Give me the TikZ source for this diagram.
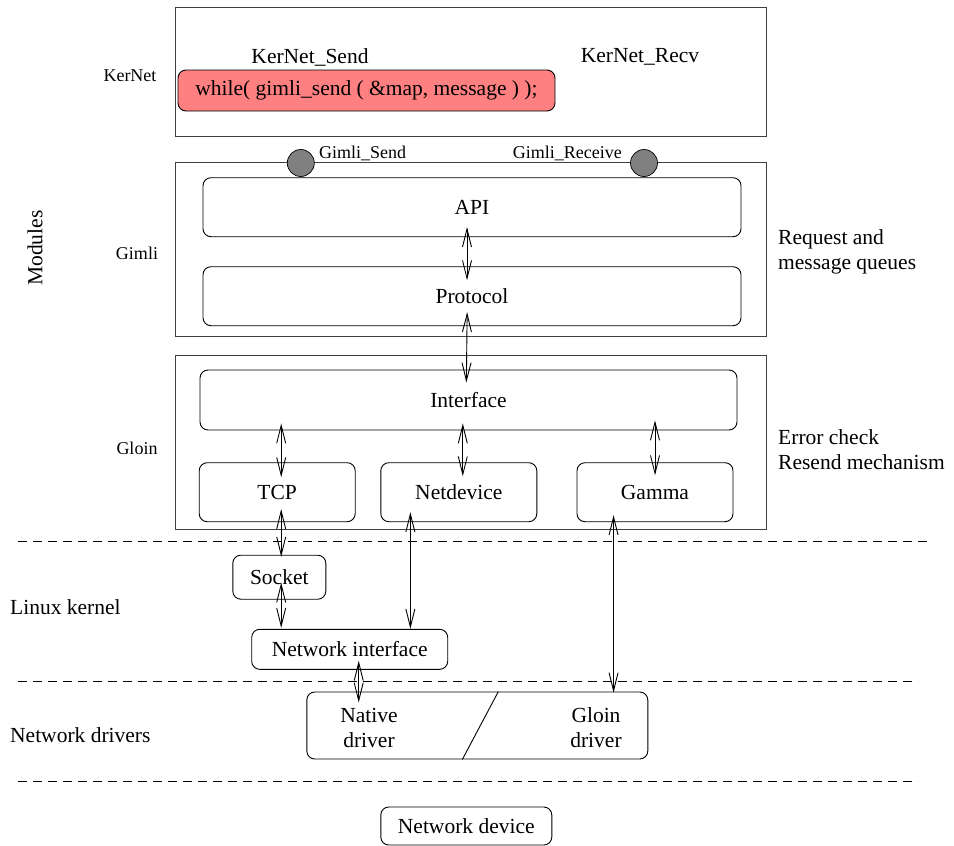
\documentclass[tikz,border=0pt]{standalone}
\usepackage{fontspec}
\setmainfont{Liberation Serif}
\usetikzlibrary{arrows.meta}
\definecolor{callred}{RGB}{255,128,128}

\begin{document}
\begin{tikzpicture}[x=1pt, y=-1pt,
    every node/.style={font=\fontsize{21.5}{25}\selectfont, inner sep=0pt},
    small/.style={font=\fontsize{18}{20}\selectfont},
    frame/.style={draw=black!75, line width=0.9pt},
    box/.style={draw, line width=0.9pt, rounded corners=8pt},
    port/.style={circle, draw, fill=gray, minimum size=27pt, line width=0.7pt},
    link/.style={{Straight Barb[length=18pt,width=9pt]}-{Straight Barb[length=18pt,width=9pt]}, line width=0.9pt},
    sep/.style={dashed, dash pattern=on 9pt off 6pt, line width=0.9pt}]
    \useasboundingbox (0,0) rectangle (954,846);

    % KerNet
    \node [frame, minimum width=591pt, minimum height=129pt] (kernet) at (470.5,72.3) {};
    \node [small] (kernetlbl) at (130,76) {KerNet};
    \node (ksend) at (310,57) {KerNet\_Send};
    \node (krecv) at (640,57) {KerNet\_Recv};
    \node [box, fill=callred, minimum width=377pt, minimum height=41pt] (call) at (366.5,90.5) {while( gimli\_send ( \&map, message ) );};

    % Gimli
    \node [frame, minimum width=591pt, minimum height=174pt] (gimli) at (470.5,249.5) {};
    \node [small] (gimlilbl) at (137,253) {Gimli};
    \node [box, minimum width=538pt, minimum height=59pt] (api) at (472,207.2) {API};
    \node [box, minimum width=538pt, minimum height=59pt] (proto) at (472,296.2) {Protocol};
    \node [port] (gsend) at (300.8,163) {};
    \node [port] (grecv) at (644,163) {};
    \node [small, anchor=base west] (gsendlbl) at (319,158) {Gimli\_Send};
    \node [small, anchor=base east] (grecvlbl) at (622,158) {Gimli\_Receive};
    \node [align=left, anchor=west] (queues) at (778,252) {Request and\\message queues};

    % Gloin
    \node [frame, minimum width=591pt, minimum height=174pt] (gloin) at (470.5,442.2) {};
    \node [small] (gloinlbl) at (137,448) {Gloin};
    \node [box, minimum width=537pt, minimum height=60pt] (iface) at (468.5,400) {Interface};
    \node [box, minimum width=156pt, minimum height=59pt] (tcp) at (277.2,492.2) {TCP};
    \node [box, minimum width=156pt, minimum height=59pt] (netdev) at (458.8,492.2) {Netdevice};
    \node [box, minimum width=156pt, minimum height=59pt] (gamma) at (655,492.2) {Gamma};
    \node [align=left, anchor=west] (errchk) at (778,450) {Error check\\Resend mechanism};

    \node [rotate=90] (modules) at (35,248) {Modules};

    % layers
    \draw [sep] (18,541) -- (928,541);
    \draw [sep] (18,681) -- (918,681);
    \draw [sep] (18,781) -- (918,781);
    \node [anchor=west] (linux) at (10,607) {Linux kernel};
    \node [anchor=west] (drivers) at (10,735) {Network drivers};

    \node [box, minimum width=93pt, minimum height=44pt] (socket) at (279.3,577.2) {Socket};
    \node [box, minimum width=196pt, minimum height=40pt] (netif) at (349.7,649.3) {Network interface};
    \node [box, minimum width=341pt, minimum height=67pt] (drv) at (477.3,725.5) {};
    \draw [line width=0.9pt] ([xshift=192pt]drv.north west) -- ([xshift=156pt]drv.south west);
    \node [align=center] (native) at (369,728) {Native\\driver};
    \node [align=center] (gloindrv) at (596,728) {Gloin\\driver};
    \node [box, minimum width=171pt, minimum height=38pt] (device) at (466.3,826) {Network device};

    % arrows
    \draw [link, shorten <=-10pt, shorten >=-14pt] ([xshift=-5pt]api.south) -- ([xshift=-5pt]proto.north);
    \draw [link, shorten <=-14pt, shorten >=-13pt] ([xshift=-5pt]proto.south) -- ([xshift=-2pt]iface.north);
    \coordinate (a1) at ([xshift=4pt]tcp.north);
    \coordinate (a2) at ([xshift=4pt]netdev.north);
    \draw [link, shorten <=-7pt, shorten >=-15pt] (a1 |- iface.south) -- (a1);
    \draw [link, shorten <=-7pt, shorten >=-14pt] (a2 |- iface.south) -- (a2);
    \draw [link, shorten <=-10pt, shorten >=-13pt] (gamma.north |- iface.south) -- (gamma.north);
    \coordinate (a3) at ([xshift=4pt]tcp.south);
    \draw [link, shorten <=-13pt, shorten >=-2pt] (a3) -- (a3 |- socket.north);
    \draw [link, shorten <=-17pt, shorten >=1pt] (a3 |- socket.south) -- (a3 |- netif.north);
    \coordinate (a4) at ([xshift=30pt]netdev.south west);
    \draw [link, shorten <=-10pt] (a4) -- (a4 |- netif.north);
    \coordinate (a5) at ([xshift=9pt]netif.south);
    \draw [link, shorten <=-9pt, shorten >=-11pt] (a5) -- (a5 |- drv.north);
    \coordinate (a6) at ([xshift=37pt]gamma.south west);
    \draw [link, shorten <=-7pt, shorten >=-1pt] (a6) -- (a6 |- drv.north);
\end{tikzpicture}
\end{document}
